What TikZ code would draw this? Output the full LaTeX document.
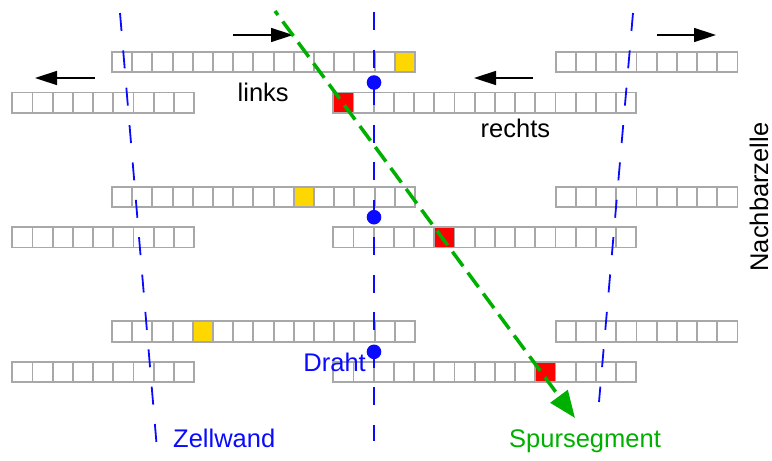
\documentclass[tikz,border=0pt]{standalone}
\usepackage{fontspec}
\setmainfont{Liberation Sans}
\usepackage{tikz}
\usetikzlibrary{arrows.meta}
\usetikzlibrary{positioning}

\definecolor{drahtblau}{RGB}{10,10,255}
\definecolor{spurgruen}{RGB}{0,176,0}
\definecolor{gelb}{RGB}{255,215,0}

\tikzset{
    zelle/.style={draw=gray!68, line width=1.9pt},
    wand/.style={drahtblau, line width=1.8pt, dash pattern=on 18pt off 19.5pt},
    punkt/.style={circle, fill=drahtblau, inner sep=0pt, minimum size=14.6pt},
    richtung/.style={-{Triangle[length=22pt,width=14pt]}, line width=1.5pt},
    spur/.style={-{Triangle[length=27pt,width=21pt]}, spurgruen, line width=3.5pt,
                 dash pattern=on 18pt off 8pt, dash phase=13pt},
    beschriftung/.style={font=\fontsize{25.5}{30}\selectfont, inner sep=0pt}
}

% one strip of drift cells: start x, top y, number of cells
\newcommand{\streifen}[3]{%
    \foreach \k in {1,...,#3}
        \draw[zelle] ({#1+(\k-1)*20.2},{#2}) rectangle ++(20.2,20.3);
}

\begin{document}
\begin{tikzpicture}[x=1pt, y=-1pt]
    \useasboundingbox (0,0) rectangle (772,461);

    % Three layers of cells (top y / yellow cell / red cell)
    \foreach \y/\g/\r [count=\n] in {52/14/0, 186.7/9/5, 321.3/4/10} {
        \streifen{112}{\y}{15}
        \streifen{555.7}{\y}{9}
        \streifen{12.3}{\y+40.5}{9}
        \streifen{333.3}{\y+40.5}{15}
        \draw[zelle, fill=gelb] ({112+\g*20.2},\y) rectangle ++(20.2,20.3);
        \draw[zelle, fill=red] ({333.3+\r*20.2},{\y+40.5}) rectangle ++(20.2,20.3);
        % wire
        \node[punkt] (draht\n) at (374,{\y+30.5}) {};
    }

    % Cell walls and wire plane
    \coordinate (wandL-o) at (120,13);
    \coordinate (wandL-u) at (158,461);
    \coordinate (wandR-o) at (633,13);
    \coordinate (wandR-u) at (599,402);
    \coordinate (draht-o) at (374,12);
    \coordinate (draht-u) at (374,441);
    \draw[wand] (wandL-o) -- (wandL-u);
    \draw[wand] (wandR-o) -- (wandR-u);
    \draw[wand] (draht-o) -- (draht-u);

    % Drift directions
    \coordinate (p1a) at (233,35);  \coordinate (p1b) at (293,35);
    \coordinate (p2a) at (95,78);   \coordinate (p2b) at (35,78);
    \coordinate (p3a) at (533,78);  \coordinate (p3b) at (474,78);
    \coordinate (p4a) at (657,35);  \coordinate (p4b) at (716,35);
    \draw[richtung] (p1a) -- (p1b);
    \draw[richtung] (p2a) -- (p2b);
    \draw[richtung] (p3a) -- (p3b);
    \draw[richtung] (p4a) -- (p4b);

    % Track segment
    \coordinate (spur-a) at (275,11);
    \coordinate (spur-b) at (575,418);
    \draw[spur] (spur-a) -- (spur-b);

    % Labels
    \node[beschriftung, anchor=base west] (links) at (237.5,101.7) {links};
    \node[beschriftung, anchor=base west] (rechts) at (480.5,137) {rechts};
    \node[beschriftung, anchor=base, rotate=90] (nachbar) at (768,197) {Nachbarzelle};
    \node[beschriftung, anchor=base east, text=drahtblau] (drahtlabel) at (366,371) {Draht};
    \node[beschriftung, anchor=base west, text=drahtblau] (zellwand) at (173,447) {Zellwand};
    \node[beschriftung, anchor=base west, text=spurgruen] (spursegment) at (509,447) {Spursegment};
\end{tikzpicture}
\end{document}
